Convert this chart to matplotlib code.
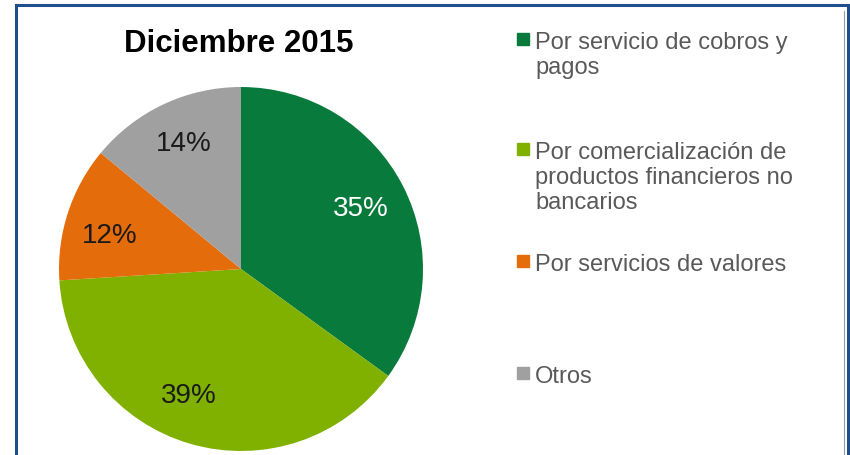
import matplotlib.pyplot as plt
from matplotlib.patches import Rectangle
from matplotlib.lines import Line2D

plt.rcParams['font.family'] = ['Liberation Sans', 'DejaVu Sans']

# ----------------------------------------------------
# Data
# ----------------------------------------------------
title = "Diciembre 2015"
categories = [
    "Por servicio de cobros y\npagos",
    "Por comercialización de\nproductos financieros no\nbancarios",
    "Por servicios de valores",
    "Otros",
]
shares = [35, 39, 12, 14]
colors = ["#087A3C", "#80B000", "#E46C0A", "#A0A0A0"]
pct_colors = ["white", "#1a1a1a", "#1a1a1a", "#1a1a1a"]

# ----------------------------------------------------
# Figure
# ----------------------------------------------------
W, H = 850, 456
fig = plt.figure(figsize=(W / 100, H / 100), dpi=100)

cx, cy, r = 241, 270, 182
ax = fig.add_axes([(cx - r) / W, 1 - (cy + r) / H, 2 * r / W, 2 * r / H])
wedges, texts, autotexts = ax.pie(
    shares,
    colors=colors,
    startangle=90,
    counterclock=False,
    autopct="%d%%",
    pctdistance=0.74,
    radius=1,
    wedgeprops=dict(linewidth=0),
    textprops=dict(fontsize=20),
)
# small nudges so labels sit where the original put them
nudges = [(0, 0), (-0.08, 0.02), (-0.02, -0.04), (0, 0.02)]
for t, c, (dx, dy) in zip(autotexts, pct_colors, nudges):
    t.set_color(c)
    x, y = t.get_position()
    t.set_position((x + dx, y + dy))
ax.set_xlim(-1, 1)
ax.set_ylim(-1, 1)
ax.set_aspect("equal")
ax.axis("off")

fig.text(239 / W, 1 - 44 / H, title, ha="center", va="center",
         fontsize=22.5, fontweight="bold", color="black")

# ----------------------------------------------------
# Legend (manual)
# ----------------------------------------------------
legend_y = [40, 150, 262, 374]  # centre of first line, px from top
for lab, col, y in zip(categories, colors, legend_y):
    fig.patches.append(Rectangle((517 / W, 1 - (y + 6) / H), 12 / W, 12 / H,
                                 transform=fig.transFigure, color=col))
    fig.text(535 / W, 1 - (y - 8) / H, lab, ha="left", va="top",
             fontsize=17, color="#595959", linespacing=1.17)

# ----------------------------------------------------
# Frame
# ----------------------------------------------------
blue = "#1F4E8C"
fig.add_artist(Line2D([16 / W, 16 / W], [0, 1 - 6 / H], color=blue, lw=2.2))
fig.add_artist(Line2D([16 / W, 848 / W], [1 - 6 / H, 1 - 6 / H], color=blue, lw=2.2))
fig.add_artist(Line2D([848 / W, 848 / W], [0, 1 - 6 / H], color=blue, lw=2.2))
fig.add_artist(Line2D([844 / W, 844 / W], [0, 1 - 12 / H], color="#999999", lw=0.8))

fig.savefig("out.png", dpi=100, facecolor="white")
